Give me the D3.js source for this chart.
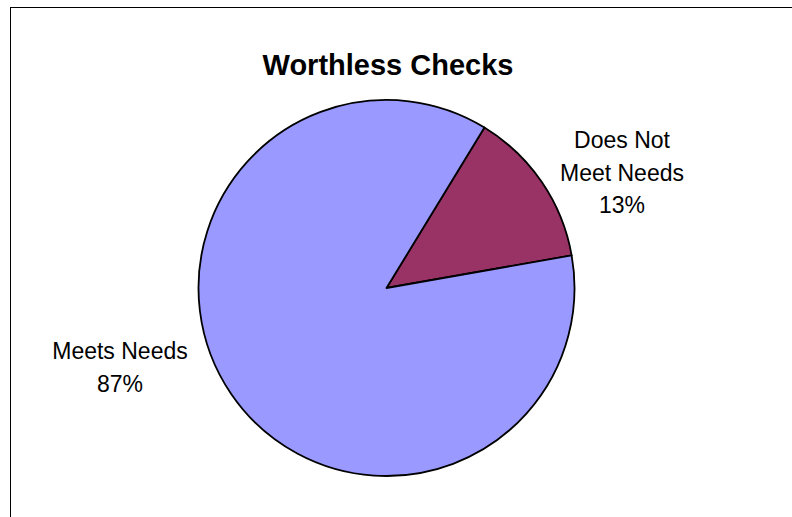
<!DOCTYPE html>
<html>
<head>
<meta charset="utf-8">
<title>Worthless Checks</title>
<script src="https://d3js.org/d3.v7.min.js"></script>
<style>
  body { margin: 0; background: #fff; }
  svg { display: block; font-family: "Liberation Sans", Arial, sans-serif; }
</style>
</head>
<body>
<svg width="792" height="517"></svg>
<script>
// data
var categories = ["Does Not Meet Needs", "Meets Needs"],
    values = [13.5, 86.5],
    labelLines = [["Does Not", "Meet Needs", "13%"], ["Meets Needs", "87%"]],
    colors = ["#993366", "#9999FF"];

var svg = d3.select("svg"),
    cx = 386.5, cy = 288, r = 188;

// chart frame (runs off the right and bottom edge)
svg.append("rect")
  .attr("x", 10.5).attr("y", 7.5)
  .attr("width", 800).attr("height", 520)
  .attr("fill", "#fff")
  .attr("stroke", "#000")
  .attr("stroke-width", 1);

svg.append("text")
  .attr("x", 388).attr("y", 75)
  .attr("text-anchor", "middle")
  .attr("font-size", "29px")
  .attr("font-weight", "bold")
  .text("Worthless Checks");

var pie = d3.pie().sort(null)
  .startAngle(31.4 * Math.PI / 180)
  .endAngle(31.4 * Math.PI / 180 + 2 * Math.PI);
var arc = d3.arc().innerRadius(0).outerRadius(r);

var g = svg.append("g").attr("transform", "translate(" + cx + "," + cy + ")");
var arcs = pie(values);

g.selectAll("path")
  .data(arcs)
  .enter()
  .append("path")
  .attr("d", arc)
  .attr("fill", function(d, i) { return colors[i]; })
  .attr("stroke", "#000")
  .attr("stroke-width", 1.8)
  .attr("stroke-linejoin", "round");

// label anchors (centre x, first baseline)
var labelPos = [[622, 148], [120, 359]];
labelLines.forEach(function(lines, i) {
  var t = svg.append("text")
    .attr("text-anchor", "middle")
    .attr("font-size", "23px")
    .attr("fill", "#000");
  lines.forEach(function(s, j) {
    t.append("tspan")
      .attr("x", labelPos[i][0])
      .attr("y", labelPos[i][1] + j * 32.5)
      .text(s);
  });
});
</script>
</body>
</html>
